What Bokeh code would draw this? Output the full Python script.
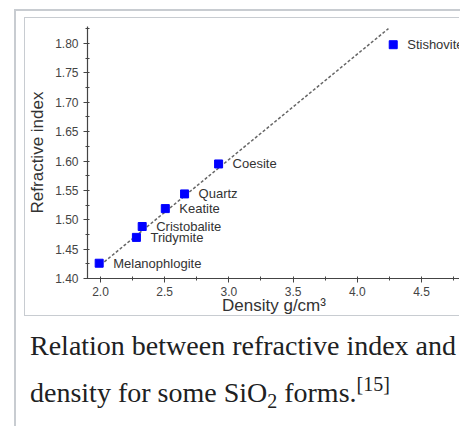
from bokeh.plotting import figure
from bokeh.layouts import column
from bokeh.models import (Range1d, SingleIntervalTicker, PrintfTickFormatter,
                          ColumnDataSource, Div)
from bokeh.core.properties import value
from bokeh.embed import file_html
from bokeh.resources import INLINE

# ---- data ----
minerals = ["Melanophlogite", "Tridymite", "Cristobalite", "Keatite",
            "Quartz", "Coesite", "Stishovite"]
density = [1.99, 2.28, 2.325, 2.505, 2.655, 2.92, 4.28]
refr_index = [1.426, 1.470, 1.4885, 1.519, 1.544, 1.595, 1.798]

trend_density = [2.0, 4.243]
trend_index = [1.423, 1.8255]

x_label = "Density g/cm³"
y_label = "Refractive index"

caption_line1 = "Relation between refractive index and"
caption_line2 = "density for some SiO"
caption_sub = "2"
caption_rest = " forms."
caption_ref = "[15]"

border = "#c8ccd1"

# ---- figure ----
p = figure(width=435, height=299,
           x_range=Range1d(1.899, 4.804), y_range=Range1d(1.40, 1.829),
           output_backend="svg", toolbar_location=None,
           min_border_left=62, min_border_right=0,
           min_border_top=8, min_border_bottom=39,
           styles={"border-left": f"1px solid {border}",
                   "border-top": f"1px solid {border}",
                   "border-bottom": f"1px solid {border}"})
p.outline_line_color = None
p.xgrid.visible = False
p.ygrid.visible = False
p.background_fill_color = "white"
p.border_fill_color = "white"

src = ColumnDataSource(dict(x=density, y=refr_index, name=minerals))

p.line(trend_density, trend_index, line_color="#666666", line_width=1.5,
       line_dash="3 2")
p.scatter("x", "y", source=src, marker="square", size=8,
          fill_color="#0000ff", line_color="#0000ff")
p.text("x", "y", text="name", source=src, x_offset=14,
       text_baseline="middle", text_align="left",
       text_font=value("Liberation Sans"), text_font_size="13px",
       text_color="#333333")

axis_color = "#444444"
for ax in (p.xaxis[0], p.yaxis[0]):
    ax.axis_line_color = axis_color
    ax.axis_line_width = 1.2
    ax.major_tick_line_color = axis_color
    ax.minor_tick_line_color = axis_color
    ax.major_tick_out = 4
    ax.major_tick_in = 0
    ax.minor_tick_out = 2
    ax.minor_tick_in = 2
    ax.major_label_text_font = "Liberation Sans"
    ax.major_label_text_font_size = "12px"
    ax.major_label_text_color = "#444444"
    ax.axis_label_text_font = "Liberation Sans"
    ax.axis_label_text_font_size = "17px"
    ax.axis_label_text_font_style = "normal"
    ax.axis_label_text_color = "#333333"

p.xaxis[0].ticker = SingleIntervalTicker(interval=0.5, num_minor_ticks=2)
p.yaxis[0].ticker = SingleIntervalTicker(interval=0.05, num_minor_ticks=2)
p.xaxis[0].formatter = PrintfTickFormatter(format="%.1f")
p.yaxis[0].formatter = PrintfTickFormatter(format="%.2f")
p.xaxis[0].axis_label = x_label
p.yaxis[0].axis_label = y_label
p.xaxis[0].major_label_standoff = 4
p.xaxis[0].axis_label_standoff = -3
p.yaxis[0].major_label_standoff = 5
p.yaxis[0].axis_label_standoff = 5

# ---- caption ----
caption_html = (
    "<div style=\"font-family:'Liberation Serif','Times New Roman',serif;"
    "font-size:28px;line-height:47px;color:#202122;white-space:nowrap;"
    "padding-left:1px;padding-top:1px;\">"
    f"{caption_line1}<br>{caption_line2}"
    "<sub style=\"font-size:20px;line-height:1;vertical-align:-6px;\">"
    f"{caption_sub}</sub>{caption_rest}"
    "<sup style=\"font-size:20px;line-height:1;vertical-align:11px;\">"
    f"{caption_ref}</sup></div>"
)
cap = Div(text=caption_html, width=436, height=106)

root = column(p, cap,
              styles={"border-left": f"2px solid {border}",
                      "border-top": f"2px solid {border}",
                      "padding-left": "8px", "padding-top": "6px",
                      "margin-left": "14px", "margin-top": "9px"})

open("out.html", "w").write(file_html(root, INLINE))
